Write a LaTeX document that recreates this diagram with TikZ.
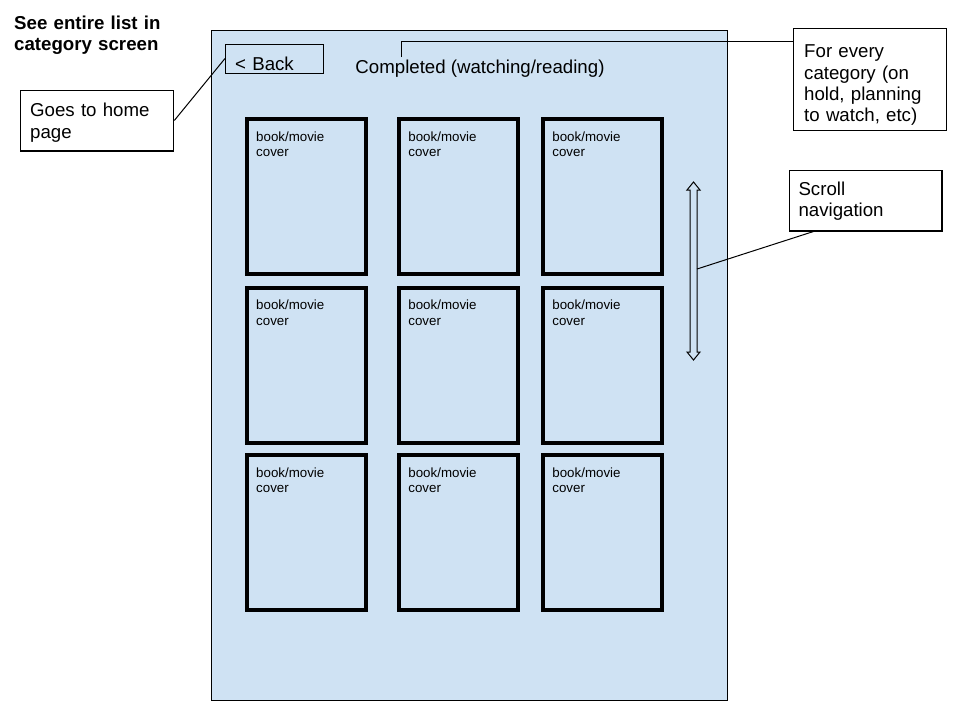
\documentclass[tikz,border=0pt]{standalone}
\usepackage{fontspec}
\setmainfont{Liberation Sans}
\usepackage{tikz}
\definecolor{panel}{RGB}{207,226,243}
\newcommand{\bigfont}{\fontsize{18.67}{21.4}\selectfont}
\newcommand{\smallfont}{\fontsize{13.33}{15.8}\selectfont}
\newcommand{\drawleader}{\draw[line width=1pt]}
\newcommand{\coverbox}[3]{
    \node[coverbox] (cover#1) at (#2,#3) {};
    \node[covertext] (covertext#1) at (#2+11.5,#3+23.7) {book/movie\\cover};
}
\tikzset{
  callout/.style={draw, line width=1.3pt, fill=white, anchor=north west, inner sep=0pt},
  notetext/.style={anchor=base west, inner sep=0pt, align=left, text width=150pt, font=\bigfont},
  coverbox/.style={draw, line width=4pt, anchor=north west, minimum width=119pt, minimum height=155pt, inner sep=0pt},
  covertext/.style={anchor=base west, inner sep=0pt, align=left, text width=100pt, font=\smallfont}
}

\begin{document}
\begin{tikzpicture}[x=1pt,y=-1pt]
\useasboundingbox[fill=white] (0,0) rectangle (960,720);
\node[draw, line width=1pt, fill=panel, anchor=north west, inner sep=0pt, minimum width=515.5pt, minimum height=670pt] (screen) at (211,29.5) {};
\node[notetext, text width=220pt, font=\bigfont\bfseries] (headline) at (14,29.3) {See entire list in\\category screen};
% grid of covers
\foreach \col/\cx in {1/244.5,2/396.7,3/540.7}{
    \foreach \row/\ry in {1/117.3,2/285.7,3/453.3}{
        \coverbox{\row\col}{\cx}{\ry}
    }
}
\node[draw, line width=1pt, anchor=north west, inner sep=0pt, minimum width=98pt, minimum height=29pt] (backbox) at (225,43.5) {};
\node[notetext] (backtext) at (235,70) {< Back};
\node[anchor=base, inner sep=0pt, font=\bigfont] (title) at (480,73.3) {Completed (watching/reading)};
% callouts
\node[callout, minimum width=153pt, minimum height=60.7pt] (homebox) at (20,89.5) {};
\node[notetext] (hometext) at (30,116.7) {Goes to home\\page};
\node[callout, minimum width=152.7pt, minimum height=102pt] (everybox) at (793,28) {};
\node[notetext] (everytext) at (804,57.7) {For every\\category (on\\hold, planning\\to watch, etc)};
\node[callout, minimum width=152.7pt, minimum height=60.7pt] (scrollbox) at (788.5,169.5) {};
\node[notetext] (scrolltext) at (798.3,195) {Scroll\\navigation};
% scroll arrow
\draw[line width=1pt] (693.5,182)--(700,190)--(697,190)--(697,352)--(700,352)--(693.5,360)--(687,352)--(690,352)--(690,190)--(687,190)--cycle;
\coordinate (scrollhit) at (697,269);
\coordinate (titletick) at (401,57);
\drawleader (homebox.east) -- (backbox.west);
\drawleader (titletick) |- (everybox.west |- 0,41);
\drawleader ([xshift=25pt]scrollbox.south west) -- (scrollhit);
\end{tikzpicture}
\end{document}
